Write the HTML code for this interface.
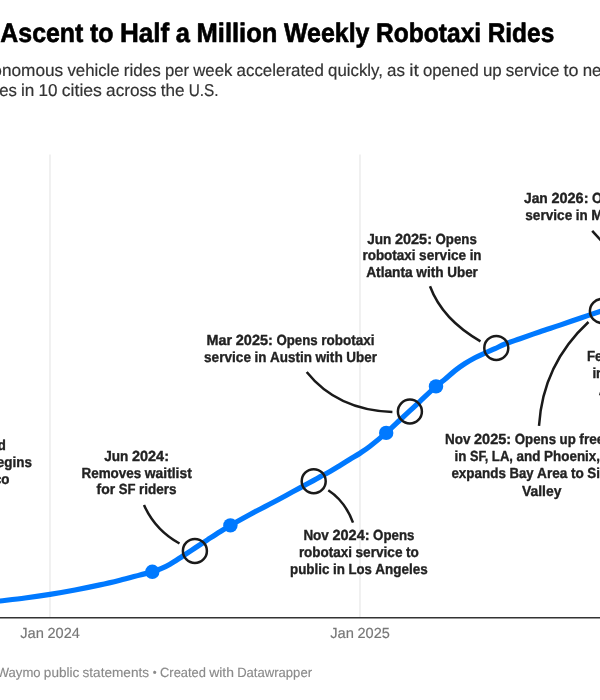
<!DOCTYPE html>
<html lang="en"><head><meta charset="utf-8"><title>Waymo chart</title>
<style>html,body{margin:0;padding:0;background:#fff;}body{width:600px;height:700px;overflow:hidden;}svg{display:block;will-change:transform;}text{font-family:"Liberation Sans", sans-serif;text-rendering:geometricPrecision;}</style></head><body>
<svg width="600" height="700" viewBox="0 0 600 700">
<rect width="600" height="700" fill="#ffffff"/>
<g stroke="#e7e7e7" stroke-width="1.2" fill="none"><line x1="50" y1="154.6" x2="50" y2="617"/><line x1="360" y1="154.6" x2="360" y2="617"/></g>
<line x1="0" y1="617.7" x2="600" y2="617.7" stroke="#333" stroke-width="1.4"/>
<path d="M-10.00,602.20 C-8.33,602.00 -5.83,601.70 0.00,601.00 C5.83,600.30 16.67,599.10 25.00,598.00 C33.33,596.90 41.67,595.73 50.00,594.40 C58.33,593.07 66.67,591.58 75.00,590.00 C83.33,588.42 92.50,586.53 100.00,584.90 C107.50,583.27 113.33,581.85 120.00,580.20 C126.67,578.55 134.60,576.40 140.00,575.00 C145.40,573.60 148.90,572.85 152.40,571.80 C155.90,570.75 158.07,569.97 161.00,568.70 C163.93,567.43 166.42,566.28 170.00,564.20 C173.58,562.12 178.33,558.90 182.50,556.20 C186.67,553.50 190.83,550.73 195.00,548.00 C199.17,545.27 203.33,542.52 207.50,539.80 C211.67,537.08 216.18,534.10 220.00,531.70 C223.82,529.30 225.40,528.27 230.40,525.40 C235.40,522.53 245.07,517.20 250.00,514.50 C254.93,511.80 256.67,510.95 260.00,509.20 C263.33,507.45 266.67,505.75 270.00,504.00 C273.33,502.25 276.67,500.48 280.00,498.70 C283.33,496.92 286.67,495.10 290.00,493.30 C293.33,491.50 296.12,490.02 300.00,487.90 C303.88,485.78 309.97,482.43 313.30,480.60 C316.63,478.77 317.22,478.42 320.00,476.90 C322.78,475.38 326.67,473.40 330.00,471.50 C333.33,469.60 336.67,467.53 340.00,465.50 C343.33,463.47 346.67,461.35 350.00,459.30 C353.33,457.25 356.67,455.38 360.00,453.20 C363.33,451.02 365.63,449.58 370.00,446.20 C374.37,442.82 381.20,437.27 386.20,432.90 C391.20,428.53 396.03,423.70 400.00,420.00 C403.97,416.30 406.67,413.82 410.00,410.70 C413.33,407.58 415.67,405.35 420.00,401.30 C424.33,397.25 431.83,390.07 436.00,386.40 C440.17,382.73 441.83,381.93 445.00,379.30 C448.17,376.67 451.67,373.23 455.00,370.60 C458.33,367.97 461.67,365.65 465.00,363.50 C468.33,361.35 471.67,359.45 475.00,357.70 C478.33,355.95 481.67,354.52 485.00,353.00 C488.33,351.48 491.67,350.10 495.00,348.60 C498.33,347.10 500.83,345.65 505.00,344.00 C509.17,342.35 514.17,340.75 520.00,338.70 C525.83,336.65 533.33,333.97 540.00,331.70 C546.67,329.43 553.33,327.35 560.00,325.10 C566.67,322.85 573.33,320.47 580.00,318.20 C586.67,315.93 594.67,313.28 600.00,311.50 C605.33,309.72 610.00,308.17 612.00,307.50" fill="none" stroke="#0079ff" stroke-width="5.2" stroke-linecap="round" stroke-linejoin="round"/>
<g fill="#0079ff"><circle cx="152.3" cy="571.8" r="7.2"/><circle cx="230.4" cy="525.4" r="7.2"/><circle cx="386.2" cy="432.9" r="7.2"/><circle cx="436" cy="386.4" r="7.2"/></g>
<g fill="none" stroke="#1a1a1a" stroke-width="2.5"><circle cx="194.9" cy="550.9" r="12"/><circle cx="313.7" cy="481.2" r="12"/><circle cx="409.9" cy="411.5" r="12"/><circle cx="496.3" cy="347.9" r="12"/><circle cx="601.9" cy="311" r="12"/></g>
<g fill="none" stroke="#1a1a1a" stroke-width="2.5" stroke-linecap="butt"><path d="M144,505 Q 155,530 179.5,543.5"/><path d="M306.7,372 Q 337,410 392.4,412"/><path d="M430,286.3 Q 442.4,319.6 480.5,341.3"/><path d="M328.3,490.2 Q 345.4,501.5 353,522.7"/><path d="M592.2,230.8 L 602,241.5"/><path d="M588.5,322 Q 543,364 539,425.8"/></g>
<text id="title" y="41.5" font-size="26.80" font-weight="700" fill="#000000" stroke="#000000" stroke-width="0.63" stroke-linejoin="round"><tspan x="0.30" textLength="83.09" lengthAdjust="spacingAndGlyphs">Ascent</tspan> <tspan x="89.96" textLength="23.47" lengthAdjust="spacingAndGlyphs">to</tspan> <tspan x="119.97" textLength="49.28" lengthAdjust="spacingAndGlyphs">Half</tspan> <tspan x="175.82" textLength="14.16" lengthAdjust="spacingAndGlyphs">a</tspan> <tspan x="196.53" textLength="80.83" lengthAdjust="spacingAndGlyphs">Million</tspan> <tspan x="283.91" textLength="85.59" lengthAdjust="spacingAndGlyphs">Weekly</tspan> <tspan x="376.07" textLength="105.06" lengthAdjust="spacingAndGlyphs">Robotaxi</tspan> <tspan x="487.67" textLength="66.59" lengthAdjust="spacingAndGlyphs">Rides</tspan></text>
<text id="sub1" y="76.0" font-size="17.11" font-weight="400" fill="#333333" stroke="#333333" stroke-width="0.19" stroke-linejoin="round"><tspan x="-7.70" textLength="70.94" lengthAdjust="spacingAndGlyphs">onomous</tspan> <tspan x="67.41" textLength="52.27" lengthAdjust="spacingAndGlyphs">vehicle</tspan> <tspan x="123.85" textLength="36.97" lengthAdjust="spacingAndGlyphs">rides</tspan> <tspan x="164.99" textLength="24.14" lengthAdjust="spacingAndGlyphs">per</tspan> <tspan x="193.28" textLength="39.11" lengthAdjust="spacingAndGlyphs">week</tspan> <tspan x="236.57" textLength="87.33" lengthAdjust="spacingAndGlyphs">accelerated</tspan> <tspan x="328.07" textLength="54.88" lengthAdjust="spacingAndGlyphs">quickly,</tspan> <tspan x="387.10" textLength="17.89" lengthAdjust="spacingAndGlyphs">as</tspan> <tspan x="409.16" textLength="9.62" lengthAdjust="spacingAndGlyphs">it</tspan> <tspan x="422.96" textLength="55.80" lengthAdjust="spacingAndGlyphs">opened</tspan> <tspan x="482.92" textLength="18.77" lengthAdjust="spacingAndGlyphs">up</tspan> <tspan x="505.86" textLength="53.55" lengthAdjust="spacingAndGlyphs">service</tspan> <tspan x="563.58" textLength="14.98" lengthAdjust="spacingAndGlyphs">to</tspan> <tspan x="582.72" textLength="30.94" lengthAdjust="spacingAndGlyphs">new</tspan></text>
<text id="sub2" y="96.3" font-size="17.11" font-weight="400" fill="#333333" stroke="#333333" stroke-width="0.19" stroke-linejoin="round"><tspan x="-0.80" textLength="17.66" lengthAdjust="spacingAndGlyphs">es</tspan> <tspan x="21.01" textLength="13.42" lengthAdjust="spacingAndGlyphs">in</tspan> <tspan x="38.61" textLength="18.97" lengthAdjust="spacingAndGlyphs">10</tspan> <tspan x="61.75" textLength="40.19" lengthAdjust="spacingAndGlyphs">cities</tspan> <tspan x="106.11" textLength="50.58" lengthAdjust="spacingAndGlyphs">across</tspan> <tspan x="160.84" textLength="23.77" lengthAdjust="spacingAndGlyphs">the</tspan> <tspan x="188.76" textLength="29.86" lengthAdjust="spacingAndGlyphs">U.S.</tspan></text>
<text id="ax1" y="638" font-size="14.62" font-weight="400" fill="#777777" stroke="#777777" stroke-width="0.16" stroke-linejoin="round"><tspan x="20.18" textLength="23.72" lengthAdjust="spacingAndGlyphs">Jan</tspan> <tspan x="47.46" textLength="32.36" lengthAdjust="spacingAndGlyphs">2024</tspan></text>
<text id="ax2" y="638" font-size="14.62" font-weight="400" fill="#777777" stroke="#777777" stroke-width="0.16" stroke-linejoin="round"><tspan x="330.18" textLength="23.72" lengthAdjust="spacingAndGlyphs">Jan</tspan> <tspan x="357.46" textLength="32.36" lengthAdjust="spacingAndGlyphs">2025</tspan></text>
<text id="foot" y="677" font-size="13.39" font-weight="400" fill="#8a8a8a" stroke="#8a8a8a" stroke-width="0.15" stroke-linejoin="round"><tspan x="-3.30" textLength="43.89" lengthAdjust="spacingAndGlyphs">Waymo</tspan> <tspan x="43.86" textLength="35.41" lengthAdjust="spacingAndGlyphs">public</tspan> <tspan x="82.53" textLength="66.56" lengthAdjust="spacingAndGlyphs">statements</tspan> <tspan x="152.86" dy="-0.9" font-size="11">•</tspan> <tspan x="160.07" dy="0.9" textLength="45.86" lengthAdjust="spacingAndGlyphs">Created</tspan> <tspan x="209.18" textLength="24.72" lengthAdjust="spacingAndGlyphs">with</tspan> <tspan x="237.15" textLength="74.89" lengthAdjust="spacingAndGlyphs">Datawrapper</tspan></text>
<text id="a0l1" y="450" font-size="14.62" font-weight="700" fill="#222" stroke="#222" stroke-width="0.35" stroke-linejoin="round"><tspan x="-10.29" textLength="16.19" lengthAdjust="spacingAndGlyphs">nd</tspan></text>
<text id="a0l2" y="467.3" font-size="14.62" font-weight="700" fill="#222" stroke="#222" stroke-width="0.35" stroke-linejoin="round"><tspan x="-11.39" textLength="43.39" lengthAdjust="spacingAndGlyphs">begins</tspan></text>
<text id="a0l3" y="484.2" font-size="14.62" font-weight="700" fill="#222" stroke="#222" stroke-width="0.35" stroke-linejoin="round"><tspan x="-13.56" textLength="23.06" lengthAdjust="spacingAndGlyphs">sco</tspan></text>
<text id="a1l1" y="460.7" font-size="14.62" font-weight="700" fill="#222" stroke="#222" stroke-width="0.35" stroke-linejoin="round"><tspan x="104.19" textLength="24.17" lengthAdjust="spacingAndGlyphs">Jun</tspan> <tspan x="131.92" textLength="37.09" lengthAdjust="spacingAndGlyphs">2024:</tspan></text>
<text id="a1l2" y="477.5" font-size="14.62" font-weight="700" fill="#222" stroke="#222" stroke-width="0.35" stroke-linejoin="round"><tspan x="81.46" textLength="59.83" lengthAdjust="spacingAndGlyphs">Removes</tspan> <tspan x="144.87" textLength="46.88" lengthAdjust="spacingAndGlyphs">waitlist</tspan></text>
<text id="a1l3" y="494.3" font-size="14.62" font-weight="700" fill="#222" stroke="#222" stroke-width="0.35" stroke-linejoin="round"><tspan x="96.55" textLength="18.56" lengthAdjust="spacingAndGlyphs">for</tspan> <tspan x="118.68" textLength="16.75" lengthAdjust="spacingAndGlyphs">SF</tspan> <tspan x="139.01" textLength="37.64" lengthAdjust="spacingAndGlyphs">riders</tspan></text>
<text id="a2l1" y="344.6" font-size="14.62" font-weight="700" fill="#222" stroke="#222" stroke-width="0.35" stroke-linejoin="round"><tspan x="206.60" textLength="25.58" lengthAdjust="spacingAndGlyphs">Mar</tspan> <tspan x="235.76" textLength="37.09" lengthAdjust="spacingAndGlyphs">2025:</tspan> <tspan x="276.43" textLength="41.30" lengthAdjust="spacingAndGlyphs">Opens</tspan> <tspan x="321.29" textLength="53.11" lengthAdjust="spacingAndGlyphs">robotaxi</tspan></text>
<text id="a2l2" y="361.9" font-size="14.62" font-weight="700" fill="#222" stroke="#222" stroke-width="0.35" stroke-linejoin="round"><tspan x="204.05" textLength="46.95" lengthAdjust="spacingAndGlyphs">service</tspan> <tspan x="254.58" textLength="11.89" lengthAdjust="spacingAndGlyphs">in</tspan> <tspan x="270.03" textLength="41.83" lengthAdjust="spacingAndGlyphs">Austin</tspan> <tspan x="315.44" textLength="27.33" lengthAdjust="spacingAndGlyphs">with</tspan> <tspan x="346.33" textLength="30.62" lengthAdjust="spacingAndGlyphs">Uber</tspan></text>
<text id="a3l1" y="243.5" font-size="14.62" font-weight="700" fill="#222" stroke="#222" stroke-width="0.35" stroke-linejoin="round"><tspan x="367.15" textLength="24.17" lengthAdjust="spacingAndGlyphs">Jun</tspan> <tspan x="394.88" textLength="37.09" lengthAdjust="spacingAndGlyphs">2025:</tspan> <tspan x="435.55" textLength="41.30" lengthAdjust="spacingAndGlyphs">Opens</tspan></text>
<text id="a3l2" y="260.4" font-size="14.62" font-weight="700" fill="#222" stroke="#222" stroke-width="0.35" stroke-linejoin="round"><tspan x="362.45" textLength="53.11" lengthAdjust="spacingAndGlyphs">robotaxi</tspan> <tspan x="419.12" textLength="46.97" lengthAdjust="spacingAndGlyphs">service</tspan> <tspan x="469.66" textLength="11.89" lengthAdjust="spacingAndGlyphs">in</tspan></text>
<text id="a3l3" y="277.3" font-size="14.62" font-weight="700" fill="#222" stroke="#222" stroke-width="0.35" stroke-linejoin="round"><tspan x="366.15" textLength="46.61" lengthAdjust="spacingAndGlyphs">Atlanta</tspan> <tspan x="416.32" textLength="27.33" lengthAdjust="spacingAndGlyphs">with</tspan> <tspan x="447.23" textLength="30.62" lengthAdjust="spacingAndGlyphs">Uber</tspan></text>
<text id="a4l1" y="203" font-size="14.62" font-weight="700" fill="#222" stroke="#222" stroke-width="0.35" stroke-linejoin="round"><tspan x="524.00" textLength="23.83" lengthAdjust="spacingAndGlyphs">Jan</tspan> <tspan x="551.39" textLength="37.09" lengthAdjust="spacingAndGlyphs">2026:</tspan> <tspan x="592.06" textLength="41.30" lengthAdjust="spacingAndGlyphs">Opens</tspan></text>
<text id="a4l2" y="219.8" font-size="14.62" font-weight="700" fill="#222" stroke="#222" stroke-width="0.35" stroke-linejoin="round"><tspan x="525.30" textLength="46.95" lengthAdjust="spacingAndGlyphs">service</tspan> <tspan x="575.83" textLength="11.89" lengthAdjust="spacingAndGlyphs">in</tspan> <tspan x="591.28" textLength="40.42" lengthAdjust="spacingAndGlyphs">Miami</tspan></text>
<text id="a5l1" y="540" font-size="14.62" font-weight="700" fill="#222" stroke="#222" stroke-width="0.35" stroke-linejoin="round"><tspan x="303.39" textLength="25.48" lengthAdjust="spacingAndGlyphs">Nov</tspan> <tspan x="332.44" textLength="37.11" lengthAdjust="spacingAndGlyphs">2024:</tspan> <tspan x="373.11" textLength="41.30" lengthAdjust="spacingAndGlyphs">Opens</tspan></text>
<text id="a5l2" y="557.2" font-size="14.62" font-weight="700" fill="#222" stroke="#222" stroke-width="0.35" stroke-linejoin="round"><tspan x="298.89" textLength="53.11" lengthAdjust="spacingAndGlyphs">robotaxi</tspan> <tspan x="355.56" textLength="46.97" lengthAdjust="spacingAndGlyphs">service</tspan> <tspan x="406.11" textLength="12.80" lengthAdjust="spacingAndGlyphs">to</tspan></text>
<text id="a5l3" y="574.4" font-size="14.62" font-weight="700" fill="#222" stroke="#222" stroke-width="0.35" stroke-linejoin="round"><tspan x="290.01" textLength="39.41" lengthAdjust="spacingAndGlyphs">public</tspan> <tspan x="332.99" textLength="11.89" lengthAdjust="spacingAndGlyphs">in</tspan> <tspan x="348.45" textLength="23.36" lengthAdjust="spacingAndGlyphs">Los</tspan> <tspan x="375.37" textLength="52.42" lengthAdjust="spacingAndGlyphs">Angeles</tspan></text>
<text id="a6l1" y="443.9" font-size="14.62" font-weight="700" fill="#222" stroke="#222" stroke-width="0.35" stroke-linejoin="round"><tspan x="445.00" textLength="25.48" lengthAdjust="spacingAndGlyphs">Nov</tspan> <tspan x="474.05" textLength="37.11" lengthAdjust="spacingAndGlyphs">2025:</tspan> <tspan x="514.72" textLength="41.30" lengthAdjust="spacingAndGlyphs">Opens</tspan> <tspan x="559.59" textLength="16.17" lengthAdjust="spacingAndGlyphs">up</tspan> <tspan x="579.33" textLength="58.69" lengthAdjust="spacingAndGlyphs">freeways</tspan></text>
<text id="a6l2" y="461.1" font-size="14.62" font-weight="700" fill="#222" stroke="#222" stroke-width="0.35" stroke-linejoin="round"><tspan x="454.50" textLength="11.89" lengthAdjust="spacingAndGlyphs">in</tspan> <tspan x="469.95" textLength="18.34" lengthAdjust="spacingAndGlyphs">SF,</tspan> <tspan x="491.86" textLength="21.16" lengthAdjust="spacingAndGlyphs">LA,</tspan> <tspan x="516.58" textLength="23.91" lengthAdjust="spacingAndGlyphs">and</tspan> <tspan x="544.06" textLength="56.00" lengthAdjust="spacingAndGlyphs">Phoenix,</tspan> <tspan x="603.62" textLength="23.91" lengthAdjust="spacingAndGlyphs">and</tspan></text>
<text id="a6l3" y="478.4" font-size="14.62" font-weight="700" fill="#222" stroke="#222" stroke-width="0.35" stroke-linejoin="round"><tspan x="451.40" textLength="54.52" lengthAdjust="spacingAndGlyphs">expands</tspan> <tspan x="509.48" textLength="24.05" lengthAdjust="spacingAndGlyphs">Bay</tspan> <tspan x="537.09" textLength="30.33" lengthAdjust="spacingAndGlyphs">Area</tspan> <tspan x="570.98" textLength="12.81" lengthAdjust="spacingAndGlyphs">to</tspan> <tspan x="587.35" textLength="44.02" lengthAdjust="spacingAndGlyphs">Silicon</tspan></text>
<text id="a6l4" y="495.7" font-size="14.62" font-weight="700" fill="#222" stroke="#222" stroke-width="0.35" stroke-linejoin="round"><tspan x="522.02" textLength="39.36" lengthAdjust="spacingAndGlyphs">Valley</tspan></text>
<text id="a7l1" y="361.2" font-size="14.62" font-weight="700" fill="#222" stroke="#222" stroke-width="0.35" stroke-linejoin="round"><tspan x="587.00" textLength="23.62" lengthAdjust="spacingAndGlyphs">Feb</tspan></text>
<text id="a7l2" y="377.9" font-size="14.62" font-weight="700" fill="#222" stroke="#222" stroke-width="0.35" stroke-linejoin="round"><tspan x="592.40" textLength="11.89" lengthAdjust="spacingAndGlyphs">in</tspan></text>
<text id="a7l3" y="394.7" font-size="14.62" font-weight="700" fill="#222" stroke="#222" stroke-width="0.35" stroke-linejoin="round"><tspan x="598.70" textLength="9.70" lengthAdjust="spacingAndGlyphs">A</tspan></text>
</svg></body></html>
